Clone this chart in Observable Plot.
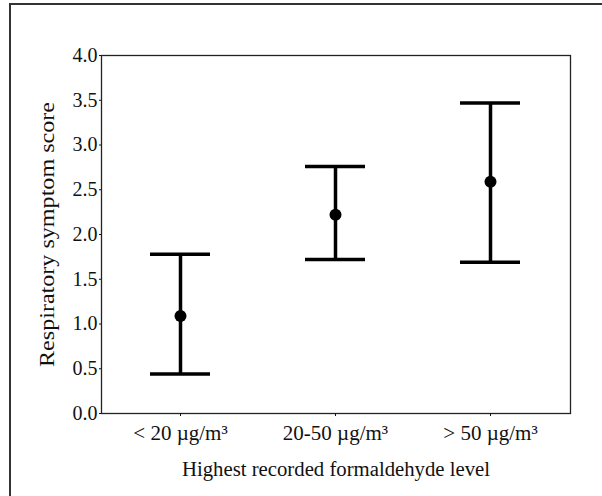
<!DOCTYPE html>
<html>
<head>
<meta charset="utf-8">
<script src="https://cdn.jsdelivr.net/npm/d3@7"></script>
<script src="https://cdn.jsdelivr.net/npm/@observablehq/plot@0.6"></script>
<style>
  html, body { margin: 0; padding: 0; background: #fff; }
  #wrap { position: relative; width: 602px; height: 496px; overflow: hidden; }
  #border { position: absolute; left: 9px; top: 3px; width: 620px; height: 520px;
            border-top: 2px solid #333; border-left: 2px solid #333; }
  #chart { position: absolute; left: 0; top: 0; }
</style>
</head>
<body>
<div id="wrap"><div id="border"></div><div id="chart"></div></div>
<script>
// Formaldehyde exposure groups
const groups = ["< 20 µg/m³", "20-50 µg/m³", "> 50 µg/m³"];
// Mean respiratory symptom score per group
const means = [1.09, 2.22, 2.59];
// Lower and upper ends of the error bars
const lows = [0.44, 1.72, 1.69];
const highs = [1.78, 2.76, 3.47];
// Y-axis ticks
const yTicks = [0, 0.5, 1, 1.5, 2, 2.5, 3, 3.5, 4];
const yTitle = "Respiratory symptom score";
const xTitle = "Highest recorded formaldehyde level";

const rows = groups.map((g, i) => ({group: g, mean: means[i], low: lows[i], high: highs[i]}));

const serif = "'Liberation Serif', 'Times New Roman', serif";

const chart = Plot.plot({
  width: 602,
  height: 496,
  marginLeft: 101,
  marginRight: 32,
  marginTop: 55,
  marginBottom: 83,
  style: {fontFamily: serif, fontSize: "18px", color: "#111", background: "transparent"},
  x: {type: "band", domain: groups, paddingInner: 0.61, paddingOuter: 0.31, label: null},
  y: {domain: [0, 4], label: null},
  marks: [
    Plot.frame({stroke: "#222", strokeWidth: 1.3}),
    Plot.axisY({ticks: yTicks, tickFormat: d => d.toFixed(1), tickSize: 2, tickPadding: 2, fontSize: 20, fontFamily: serif}),
    Plot.axisX({tickSize: 3, tickPadding: 9, fontSize: 21, fontFamily: serif}),
    Plot.ruleX(rows, {x: "group", y1: "low", y2: "high", stroke: "#000", strokeWidth: 3.5}),
    Plot.tickY(rows, {x: "group", y: "high", stroke: "#000", strokeWidth: 3.5}),
    Plot.tickY(rows, {x: "group", y: "low", stroke: "#000", strokeWidth: 3.5}),
    Plot.dot(rows, {x: "group", y: "mean", r: 6, fill: "#000", stroke: "none"}),
    Plot.text([yTitle], {frameAnchor: "left", textAnchor: "middle", dx: -54, rotate: -90, fontSize: 20, fill: "#111", className: "ytitle"}),
    Plot.text([xTitle], {frameAnchor: "bottom", textAnchor: "middle", dy: 62, fontSize: 20, fill: "#111", className: "xtitle"})
  ]
});
// Stretch the axis titles to their set lengths
chart.querySelectorAll(".ytitle text").forEach(t => { t.setAttribute("textLength", 265); t.setAttribute("lengthAdjust", "spacingAndGlyphs"); });
chart.querySelectorAll(".xtitle text").forEach(t => { t.setAttribute("textLength", 308); t.setAttribute("lengthAdjust", "spacingAndGlyphs"); });
document.getElementById("chart").append(chart);
</script>
</body>
</html>
